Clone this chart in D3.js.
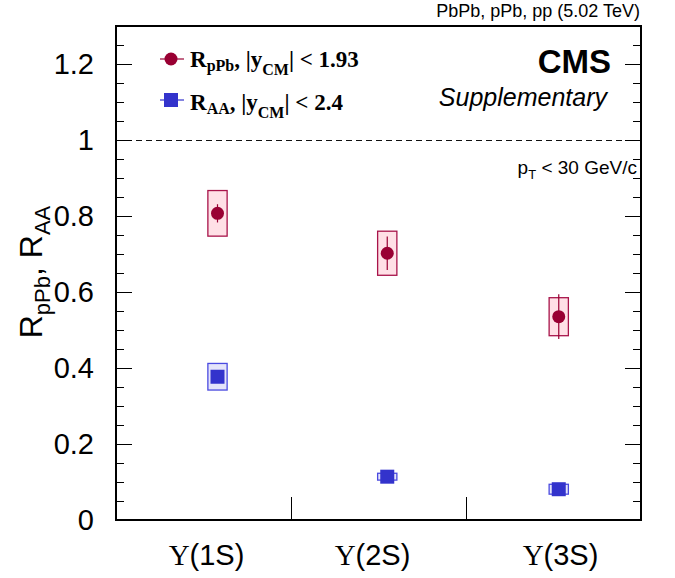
<!DOCTYPE html>
<html>
<head>
<meta charset="utf-8">
<script src="https://cdn.jsdelivr.net/npm/d3@7"></script>
<style>
  html, body { margin: 0; padding: 0; background: #fff; }
  svg { display: block; font-family: "Liberation Sans", Arial, Helvetica, sans-serif; }
</style>
</head>
<body>
<svg id="chart" width="675" height="578"></svg>
<script>
// Upsilon states and nuclear modification factors
const states = ["1S", "2S", "3S"];
const statePos = [0.58, 1.55, 2.53];          // x coordinate of each measurement (bin units)
const rpPb = [0.807, 0.702, 0.535];
const rpPbStat = [0.024, 0.044, 0.059];
const rpPbSyst = [0.060, 0.058, 0.050];
const rAA = [0.377, 0.114, 0.081];
const rAAStat = [0.008, 0.006, 0.006];
const rAASyst = [0.035, 0.009, 0.013];
const yMajorTicks = [0, 0.2, 0.4, 0.6, 0.8, 1, 1.2];
const yTickLabels = ["0", "0.2", "0.4", "0.6", "0.8", "1", "1.2"];

const svg = d3.select("#chart");
const L = 116, R = 641, T = 26, B = 520;
const sans = "'Liberation Sans', Arial, Helvetica, sans-serif";
const serif = "'Liberation Serif', 'Times New Roman', serif";

const x = d3.scaleLinear().domain([0, 3]).range([L, R]);
const y = d3.scaleLinear().domain([0, 1.3]).range([B, T]);
const boxHalf = 0.055;

// reference line at unity
svg.append("line")
  .attr("x1", L).attr("x2", R).attr("y1", y(1)).attr("y2", y(1))
  .attr("stroke", "#111").attr("stroke-width", 1).attr("stroke-dasharray", "6,4")
  .attr("shape-rendering", "crispEdges");

// y axis: majors with labels, minors between
const minor = d3.range(0, 1.3001, 0.05).filter(v => !yMajorTicks.some(m => Math.abs(m - v) < 1e-6));
const yAxis = d3.axisLeft(y).tickValues(yMajorTicks)
  .tickFormat((d, i) => yTickLabels[i]).tickSize(-16).tickPadding(22);
const gy = svg.append("g").attr("transform", `translate(${L},0)`).call(yAxis);
gy.select(".domain").remove();
gy.selectAll(".tick line").attr("stroke", "#000");
gy.selectAll(".tick text").attr("fill", "#000")
  .style("font-size", "29px").style("font-family", sans);
svg.append("g").attr("transform", `translate(${L},0)`)
  .call(d3.axisLeft(y).tickValues(minor).tickSize(-8).tickFormat(""))
  .call(g => g.select(".domain").remove());
// mirrored ticks on the right edge
svg.append("g").attr("transform", `translate(${R},0)`)
  .call(d3.axisRight(y).tickValues(yMajorTicks).tickSize(-16).tickFormat(""))
  .call(g => g.select(".domain").remove());
svg.append("g").attr("transform", `translate(${R},0)`)
  .call(d3.axisRight(y).tickValues(minor).tickSize(-8).tickFormat(""))
  .call(g => g.select(".domain").remove());

// x axis: bin edges as ticks
const gx = svg.append("g").attr("transform", `translate(0,${B})`)
  .call(d3.axisBottom(x).tickValues([1, 2]).tickSize(-23).tickFormat(""));
gx.select(".domain").remove();
gx.selectAll(".tick line").attr("stroke", "#000");

// bin labels
svg.append("g").selectAll("text").data(states).join("text")
  .attr("x", (d, i) => x(i + 0.5) + [3, -6, 7][i])
  .attr("y", 565)
  .attr("text-anchor", "middle")
  .style("font-size", "29px").style("font-family", sans)
  .each(function (d) {
    const t = d3.select(this);
    t.append("tspan").style("font-family", serif).text("\u03A5");
    t.append("tspan").text("(" + d + ")");
  });

// systematic boxes
const pink = "#ffe0e6", crimson = "#990033";
const lav = "#e4e4fa", blue = "#3333cc";
svg.append("g").selectAll("rect").data(rpPb).join("rect")
  .attr("x", (d, i) => x(statePos[i] - boxHalf))
  .attr("width", (d, i) => x(statePos[i] + boxHalf) - x(statePos[i] - boxHalf))
  .attr("y", (d, i) => y(d + rpPbSyst[i]))
  .attr("height", (d, i) => y(d - rpPbSyst[i]) - y(d + rpPbSyst[i]))
  .attr("fill", pink).attr("stroke", "#a8144a").attr("stroke-width", 1.3);
svg.append("g").selectAll("rect").data(rAA).join("rect")
  .attr("x", (d, i) => x(statePos[i] - boxHalf))
  .attr("width", (d, i) => x(statePos[i] + boxHalf) - x(statePos[i] - boxHalf))
  .attr("y", (d, i) => y(d + rAASyst[i]))
  .attr("height", (d, i) => y(d - rAASyst[i]) - y(d + rAASyst[i]))
  .attr("fill", lav).attr("stroke", "#4a4ae0").attr("stroke-width", 1.3);

// statistical error bars
svg.append("g").selectAll("line").data(rpPb).join("line")
  .attr("x1", (d, i) => x(statePos[i])).attr("x2", (d, i) => x(statePos[i]))
  .attr("y1", (d, i) => y(d + rpPbStat[i])).attr("y2", (d, i) => y(d - rpPbStat[i]))
  .attr("stroke", crimson).attr("stroke-width", 1.2);
svg.append("g").selectAll("line").data(rAA).join("line")
  .attr("x1", (d, i) => x(statePos[i])).attr("x2", (d, i) => x(statePos[i]))
  .attr("y1", (d, i) => y(d + rAAStat[i])).attr("y2", (d, i) => y(d - rAAStat[i]))
  .attr("stroke", blue).attr("stroke-width", 1.2);

// markers
svg.append("g").selectAll("circle").data(rpPb).join("circle")
  .attr("cx", (d, i) => x(statePos[i])).attr("cy", d => y(d))
  .attr("r", 6.5).attr("fill", crimson);
svg.append("g").selectAll("rect").data(rAA).join("rect")
  .attr("x", (d, i) => x(statePos[i]) - 7).attr("y", d => y(d) - 7)
  .attr("width", 14).attr("height", 14).attr("fill", blue);

// frame
svg.append("rect").attr("x", L).attr("y", T).attr("width", R - L).attr("height", B - T)
  .attr("fill", "none").attr("stroke", "#000").attr("stroke-width", 2);

// y axis title
const yt = svg.append("text")
  .attr("transform", "translate(42,272) rotate(-90)")
  .attr("text-anchor", "middle")
  .style("font-size", "32px").style("font-family", sans);
yt.append("tspan").text("R");
yt.append("tspan").style("font-size", "22px").attr("dy", 8).text("pPb");
yt.append("tspan").attr("dy", -8).text(", R");
yt.append("tspan").style("font-size", "22px").attr("dy", 8).text("AA");

// legend
svg.append("line").attr("x1", 160).attr("x2", 184).attr("y1", 59).attr("y2", 59)
  .attr("stroke", crimson).attr("stroke-width", 1.2);
svg.append("circle").attr("cx", 171).attr("cy", 59).attr("r", 6.5).attr("fill", crimson);
svg.append("line").attr("x1", 160).attr("x2", 184).attr("y1", 100).attr("y2", 100)
  .attr("stroke", blue).attr("stroke-width", 1.2);
svg.append("rect").attr("x", 164).attr("y", 93).attr("width", 14).attr("height", 14).attr("fill", blue);

function legendText(yb, base, rest) {
  const t = svg.append("text").attr("x", 190).attr("y", yb)
    .style("font-family", serif).style("font-weight", "bold").style("font-size", "23px");
  t.append("tspan").text("R");
  t.append("tspan").style("font-size", "16px").attr("dy", 4).text(base);
  t.append("tspan").attr("dy", -4).text(", |y");
  t.append("tspan").style("font-size", "16px").attr("dy", 8).text("CM");
  t.append("tspan").attr("dy", -8).text("| < " + rest);
}
legendText(67, "pPb", "1.93");
legendText(110, "AA", "2.4");

// labels
svg.append("text").attr("x", 640).attr("y", 17).attr("text-anchor", "end")
  .style("font-size", "18px").text("PbPb, pPb, pp (5.02 TeV)");
svg.append("text").attr("x", 611).attr("y", 73).attr("text-anchor", "end")
  .style("font-size", "33px").style("font-weight", "bold").text("CMS");
svg.append("text").attr("x", 607).attr("y", 106).attr("text-anchor", "end")
  .style("font-size", "25px").style("font-style", "italic").text("Supplementary");
const pt = svg.append("text").attr("x", 637).attr("y", 174).attr("text-anchor", "end")
  .style("font-size", "19px");
pt.append("tspan").text("p");
pt.append("tspan").style("font-size", "13px").attr("dy", 5).text("T");
pt.append("tspan").attr("dy", -5).text(" < 30 GeV/c");
</script>
</body>
</html>
